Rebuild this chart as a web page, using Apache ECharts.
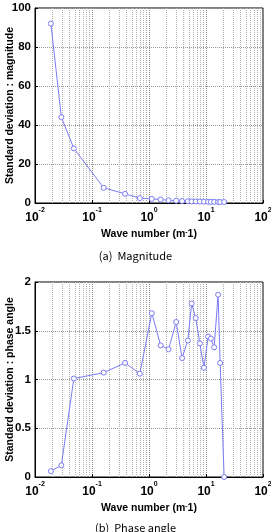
<!DOCTYPE html>
<html><head><meta charset="utf-8">
<script src="https://cdn.jsdelivr.net/npm/echarts@6/dist/echarts.min.js"></script>
<style>html,body{margin:0;padding:0;background:#fff}#c{width:271px;height:532px}</style>
</head><body><div id="c"></div>
<script>
const waveNumber = [0.019,0.029,0.048,0.16,0.38,0.69,1.12,1.6,2.2,3.0,3.8,4.8,5.6,6.6,7.8,9.2,10.9,12.2,13.9,16.3,17.7,20.8];
const magnitudeStd = [92,44,28,7.8,4.7,2.5,2.1,1.8,1.4,1.2,1.0,0.9,0.8,0.8,0.7,0.7,0.6,0.6,0.6,0.5,0.5,0.5];
const phaseStd = [0.06,0.12,1.01,1.07,1.17,1.06,1.68,1.35,1.31,1.59,1.22,1.40,1.78,1.63,1.37,1.12,1.44,1.42,1.33,1.87,1.17,0.0];
const xTicks = [0.01,0.1,1,10,100];
const magTicks = [0,20,40,60,80,100];
const phaseTicks = [0,0.5,1,1.5,2];
const minorX = [];
for (let k = -2; k < 2; k++) for (let m = 2; m <= 9; m++) minorX.push(+(m * Math.pow(10, k)).toPrecision(3));

const lineColor = '#7b7bf5';
const font = 'Liberation Sans, Arial, sans-serif';

function xAxisCfg(gi){
  return {
    type:'log', logBase:10, min:0.01, max:100, gridIndex:gi,
    name:'Wave number (m{s|-}1)', nameLocation:'middle', nameGap:26, nameMoveOverlap:false,
    nameTextStyle:{fontFamily:font,fontWeight:'bold',fontSize:10.5,color:'#000',
      rich:{s:{fontSize:7,fontWeight:'bold',verticalAlign:'top',lineHeight:10}}},
    axisLine:{show:true,lineStyle:{color:'#000',width:1}},
    axisTick:{show:true,inside:true,length:3,lineStyle:{color:'#000'}},
    axisLabel:{margin:4,color:'#000',fontFamily:font,
      formatter:function(v){const e=Math.round(Math.log10(v));return '{b|10}{s|'+e+'}';},
      rich:{b:{fontSize:12,fontWeight:'bold',fontFamily:font,lineHeight:17,verticalAlign:'bottom'},
            s:{fontSize:7,fontWeight:'bold',fontFamily:font,lineHeight:17,verticalAlign:'top'}}},
    splitLine:{show:true,lineStyle:{color:'#888',type:'dotted',width:1}}
  };
}
function yAxisCfg(gi,max,interval,name){
  return {
    type:'value', min:0, max:max, interval:interval, gridIndex:gi,
    name:name, nameLocation:'middle', nameGap:19, nameMoveOverlap:false,
    nameTextStyle:{fontFamily:font,fontWeight:'bold',fontSize:10.5,color:'#000'},
    axisLine:{show:true,lineStyle:{color:'#000',width:1}},
    axisTick:{show:true,inside:true,length:3,lineStyle:{color:'#000'}},
    axisLabel:{margin:4,color:'#000',fontFamily:font,fontWeight:'bold',fontSize:11.5},
    splitLine:{show:true,lineStyle:{color:'#999',type:'dotted',width:1}}
  };
}
function seriesCfg(gi,vals){
  return {
    type:'line', xAxisIndex:gi, yAxisIndex:gi,
    data: waveNumber.map((x,i)=>[x,vals[i]]),
    symbol:'circle', symbolSize:5, showSymbol:true,
    itemStyle:{color:'#ffffff',borderColor:lineColor,borderWidth:1},
    lineStyle:{color:lineColor,width:1},
    animation:false, z:5,
    markLine:{silent:true,symbol:'none',label:{show:false},animation:false,
      lineStyle:{color:'#b0b0b0',type:'dotted',width:1},
      data: minorX.map(v=>({xAxis:v}))}
  };
}
const chart = echarts.init(document.getElementById('c'), null, {renderer:'canvas'});
chart.setOption({
  animation:false,
  title:[
    {text:'(a)  Magnitude',left:'center',top:245,textStyle:{fontFamily:'Noto Sans CJK KR, sans-serif',fontWeight:'normal',fontSize:11,color:'#000'}},
    {text:'(b)  Phase angle',left:'center',top:517,textStyle:{fontFamily:'Noto Sans CJK KR, sans-serif',fontWeight:'normal',fontSize:11,color:'#000'}}
  ],
  grid:[
    {left:35,right:8,top:8,height:195,show:true,borderColor:'#000',borderWidth:1,backgroundColor:'transparent',containLabel:false,outerBoundsMode:'none'},
    {left:35,right:8,top:282,height:195,show:true,borderColor:'#000',borderWidth:1,backgroundColor:'transparent',containLabel:false,outerBoundsMode:'none'}
  ],
  xAxis:[xAxisCfg(0),xAxisCfg(1)],
  yAxis:[yAxisCfg(0,100,20,'Standard deviation : magnitude'),yAxisCfg(1,2,0.5,'Standard deviation : phase angle')],
  series:[seriesCfg(0,magnitudeStd),seriesCfg(1,phaseStd)]
});
</script></body></html>
